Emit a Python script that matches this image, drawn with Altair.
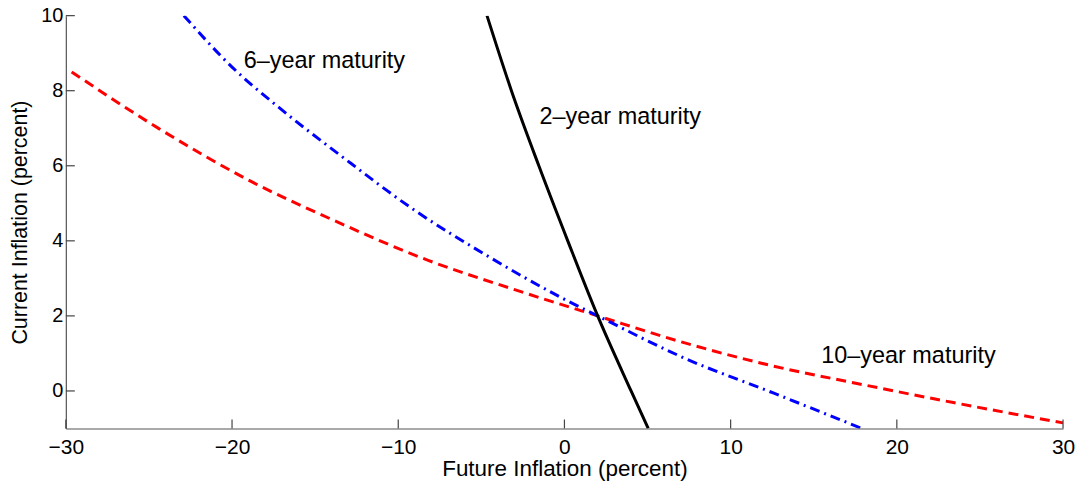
import altair as alt
import pandas as pd

# 2-year maturity (black solid)
x_2y = [-4.66, -3.19, -1.54, 0.2, 2.0, 4.01, 5.04]
y_2y = [10.0, 8.0, 6.0, 4.0, 2.0, 0.0, -1.0]

# 6-year maturity (blue dash-dot)
x_6y = [-22.9, -20.0, -17.2, -13.4, -9.0, -4.6, -0.2, 2.0, 7.4, 12.6, 17.9]
y_6y = [10.0, 8.63, 7.56, 6.25, 4.81, 3.59, 2.49, 2.0, 0.84, -0.06, -1.0]

# 10-year maturity (red dashed)
x_10y = [-29.65, -24.4, -18.8, -13.8, -8.2, -3.0, 2.0, 7.4, 12.6, 17.6, 23.4, 30.0]
y_10y = [8.5, 6.99, 5.57, 4.53, 3.48, 2.70, 2.0, 1.26, 0.66, 0.20, -0.31, -0.85]

labels = ["6\u2013year maturity", "2\u2013year maturity", "10\u2013year maturity"]
label_x = [-19.3, -1.5, 15.45]
label_y = [8.78, 7.29, 0.93]

x_ticks = [-30, -20, -10, 0, 10, 20, 30]
y_ticks = [0, 2, 4, 6, 8, 10]

W, H = 1000, 414
FONT = "Liberation Sans"

xs = alt.Scale(domain=[-30, 30], nice=False, zero=False)
ys = alt.Scale(domain=[-1, 10], nice=False, zero=False)

def line_df(xv, yv, name):
    return pd.DataFrame({"x": xv, "y": yv, "series": name, "order": range(len(xv))})

d2 = line_df(x_2y, y_2y, "2")
d6 = line_df(x_6y, y_6y, "6")
d10 = line_df(x_10y, y_10y, "10")

xaxis = alt.Axis(values=x_ticks, tickSize=0, domainColor="#555555", domainWidth=1.2,
                 labelFontSize=21, labelFont=FONT, labelColor="black", labelPadding=8,
                 labelFlush=False,
                 labelExpr="datum.value < 0 ? datum.label + '\u2002' : datum.label",
                 title="Future Inflation (percent)", titleFont=FONT, titleFontSize=22.5,
                 titleFontWeight="normal", titleColor="black", titlePadding=0, grid=False)
yaxis = alt.Axis(values=y_ticks, tickSize=0, domainColor="#555555", domainWidth=1.2,
                 labelFontSize=20, labelFont=FONT, labelColor="black", labelPadding=3,
                 title="Current Inflation (percent)", titleFont=FONT, titleFontSize=21.5,
                 titleFontWeight="normal", titleColor="black", titlePadding=9, grid=False)

def line(df, color, dash):
    kw = dict(color=color, strokeWidth=3, clip=True)
    if dash:
        kw["strokeDash"] = dash
    return alt.Chart(df).mark_line(interpolate="monotone", **kw).encode(
        x=alt.X("x:Q", scale=xs, axis=xaxis),
        y=alt.Y("y:Q", scale=ys, axis=yaxis),
        order="order:Q",
    )

red = line(d10, "#ff0000", [10, 6])
blue = line(d6, "#0000ff", [10, 5, 2, 5])
black = line(d2, "#000000", None)

xt = alt.Chart(pd.DataFrame({"v": x_ticks})).mark_rule(color="#444444", strokeWidth=1.2).encode(
    x=alt.X("v:Q", scale=xs), y=alt.value(H), y2=alt.value(H - 9))
yt = alt.Chart(pd.DataFrame({"v": y_ticks})).mark_rule(color="#444444", strokeWidth=1.2).encode(
    y=alt.Y("v:Q", scale=ys), x=alt.value(0), x2=alt.value(9))

txt = alt.Chart(pd.DataFrame({"t": labels, "x": label_x, "y": label_y})).mark_text(
    align="left", baseline="middle", font=FONT, fontSize=23.5, color="black").encode(
    x=alt.X("x:Q", scale=xs), y=alt.Y("y:Q", scale=ys), text="t:N")

chart = alt.layer(red, blue, black, xt, yt, txt).properties(
    width=W, height=H,
    autosize=alt.AutoSizeParams(type="none"),
    padding={"left": 58, "top": 7, "right": 12, "bottom": 54},
).configure_view(stroke=None)

chart.save("out.html", embed_options={"renderer": "svg", "actions": False})
